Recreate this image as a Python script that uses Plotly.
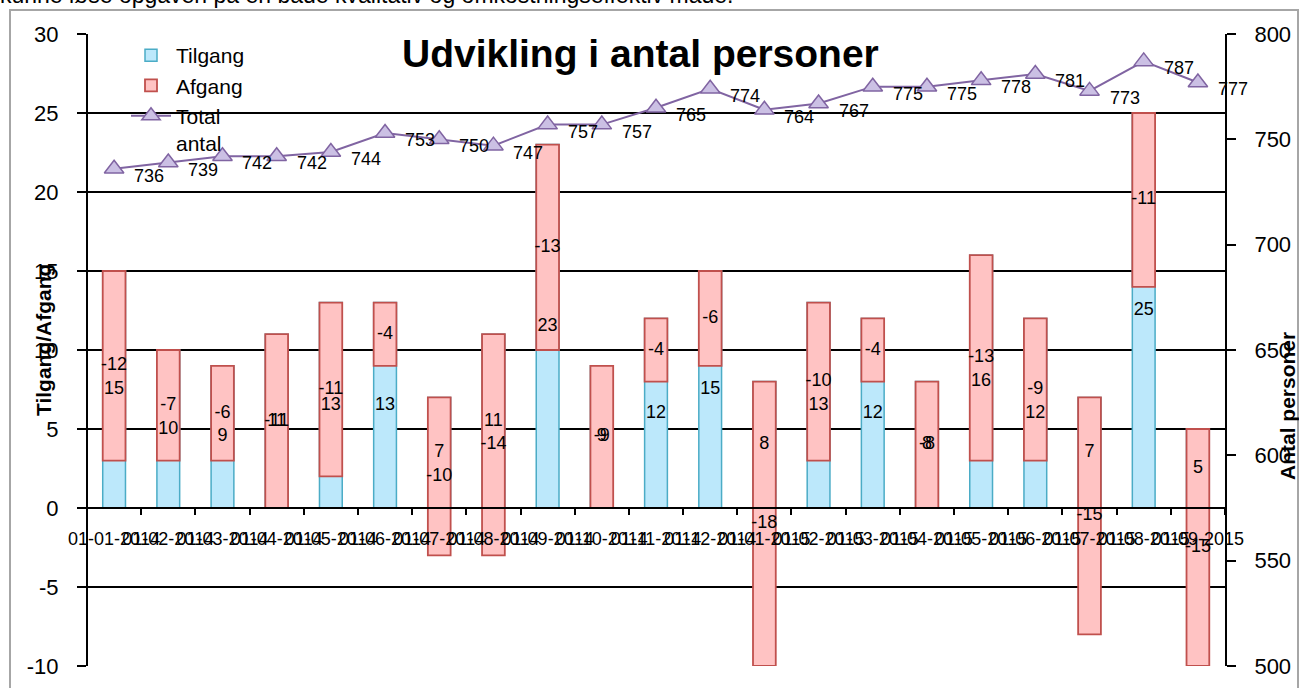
import plotly.graph_objects as go

categories = ["01-01-2014", "01-02-2014", "01-03-2014", "01-04-2014", "01-05-2014",
              "01-06-2014", "01-07-2014", "01-08-2014", "01-09-2014", "01-10-2014",
              "01-11-2014", "01-12-2014", "01-01-2015", "01-02-2015", "01-03-2015",
              "01-04-2015", "01-05-2015", "01-06-2015", "01-07-2015", "01-08-2015",
              "01-09-2015"]
tilgang = [15, 10, 9, 11, 13, 13, 7, 11, 23, 9, 12, 15, 8, 13, 12, 8, 16, 12, 7, 25, 5]
afgang = [-12, -7, -6, -11, -11, -4, -10, -14, -13, -9, -4, -6, -18, -10, -4, -8, -13, -9, -15, -11, -15]
total = [736, 739, 742, 742, 744, 753, 750, 747, 757, 757, 765, 774, 764, 767, 775, 775, 778, 781, 773, 787, 777]
left_ticks = [-10, -5, 0, 5, 10, 15, 20, 25, 30]
right_ticks = [500, 550, 600, 650, 700, 750, 800]

FONT = "Liberation Sans"
W, H = 1299, 688
L, R, T, B = 87, 74, 34, 22
pw, ph = W - L - R, H - T - B

def px_x(p):
    return (p - L) / pw

def px_y(p):
    return (H - B - p) / ph

fig = go.Figure()

fig.add_trace(go.Bar(
    x=categories, y=tilgang, name="Tilgang", width=0.42,
    marker=dict(color="#bce8fb", line=dict(color="#4bacc6", width=1.5)),
    yaxis="y",
))
fig.add_trace(go.Bar(
    x=categories, y=afgang, base=tilgang, name="Afgang", width=0.42,
    marker=dict(color="#ffc3c3", line=dict(color="#c0504d", width=1.8)),
    yaxis="y",
))
fig.add_trace(go.Scatter(
    x=categories, y=total, name="Total<br>antal", mode="lines+markers",
    line=dict(color="#8064a2", width=2),
    marker=dict(symbol="triangle-up", size=17, color="#cbc0e4",
                line=dict(color="#8064a2", width=1.5)),
    yaxis="y2",
))

# bar value labels (centered in each bar's full extent)
fig.add_trace(go.Scatter(
    x=categories, y=[t / 2 for t in tilgang], mode="text",
    text=[str(t) for t in tilgang], textfont=dict(family=FONT, size=18, color="black"),
    showlegend=False, hoverinfo="skip", yaxis="y",
))
fig.add_trace(go.Scatter(
    x=categories, y=[t + a / 2 for t, a in zip(tilgang, afgang)], mode="text",
    text=[str(a) for a in afgang], textfont=dict(family=FONT, size=18, color="black"),
    showlegend=False, hoverinfo="skip", yaxis="y",
))

annotations = []
for c, v in zip(categories, total):
    annotations.append(dict(
        x=c, y=v, xref="x", yref="y2", text=str(v), showarrow=False,
        xanchor="left", yanchor="middle", xshift=18, yshift=-7,
        font=dict(family=FONT, size=18, color="black"),
    ))

annotations += [
    dict(text="<b>Udvikling i antal personer</b>", x=px_x(640), y=px_y(53),
         xref="paper", yref="paper", showarrow=False, xanchor="center", yanchor="middle",
         font=dict(family=FONT, size=39, color="black")),
    dict(text="<b>Tilgang/Afgang</b>", x=px_x(43), y=px_y(340), textangle=-90,
         xref="paper", yref="paper", showarrow=False, xanchor="center", yanchor="middle",
         font=dict(family=FONT, size=21, color="black")),
    dict(text="<b>Antal personer</b>", x=px_x(1287), y=px_y(406), textangle=-90,
         xref="paper", yref="paper", showarrow=False, xanchor="center", yanchor="middle",
         font=dict(family=FONT, size=21, color="black")),
    dict(text="kunne løse opgaven på en både kvalitativ og omkostningseffektiv måde.",
         x=px_x(-2), y=px_y(-5), xref="paper", yref="paper", showarrow=False,
         xanchor="left", yanchor="middle",
         font=dict(family=FONT, size=23, color="black")),
]

fig.update_layout(
    width=W, height=H,
    margin=dict(l=L, r=R, t=T, b=B, autoexpand=False),
    paper_bgcolor="white", plot_bgcolor="white",
    barmode="overlay",
    font=dict(family=FONT, color="black"),
    showlegend=True,
    legend=dict(x=px_x(126), y=px_y(35), xanchor="left", yanchor="top",
                bgcolor="rgba(0,0,0,0)", font=dict(family=FONT, size=21, color="black"),
                traceorder="normal", valign="top", tracegroupgap=0, itemwidth=40),
    xaxis=dict(
        type="category", anchor="free", position=0.25, automargin=False,
        range=[-0.5, len(categories) - 0.5],
        showline=True, linecolor="black", linewidth=2,
        ticks="outside", tickson="boundaries", ticklen=6, tickcolor="black", tickwidth=1.5,
        tickangle=0, tickmode="linear", dtick=1,
        tickfont=dict(family=FONT, size=18, color="black"),
        ticklabelstandoff=14, showgrid=False,
    ),
    yaxis=dict(
        range=[-10, 30], anchor="free", position=0, automargin=False,
        tickmode="array", tickvals=left_ticks, ticktext=[str(v) for v in left_ticks],
        showline=True, linecolor="black", linewidth=2,
        showgrid=True, gridcolor="black", gridwidth=1.5, zeroline=False,
        ticks="outside", ticklen=9, tickcolor="black", tickwidth=1.5,
        tickfont=dict(family=FONT, size=22, color="black"),
        ticklabelstandoff=14,
    ),
    yaxis2=dict(
        range=[500, 800], overlaying="y", side="right", anchor="x", automargin=False,
        tickmode="array", tickvals=right_ticks, ticktext=[str(v) for v in right_ticks],
        showline=True, linecolor="black", linewidth=2, showgrid=False, zeroline=False,
        ticks="outside", ticklen=9, tickcolor="black", tickwidth=1.5,
        tickfont=dict(family=FONT, size=22, color="black"),
        ticklabelstandoff=14,
    ),
    annotations=annotations,
    shapes=[dict(type="rect", xref="paper", yref="paper",
                 x0=px_x(10), x1=px_x(1298), y0=px_y(720), y1=px_y(10),
                 line=dict(color="#a6a6a6", width=2), fillcolor="rgba(0,0,0,0)",
                 layer="below")],
)

fig.write_html("out.html", config={"displayModeBar": False},
               post_script="document.body.style.margin='0';")
